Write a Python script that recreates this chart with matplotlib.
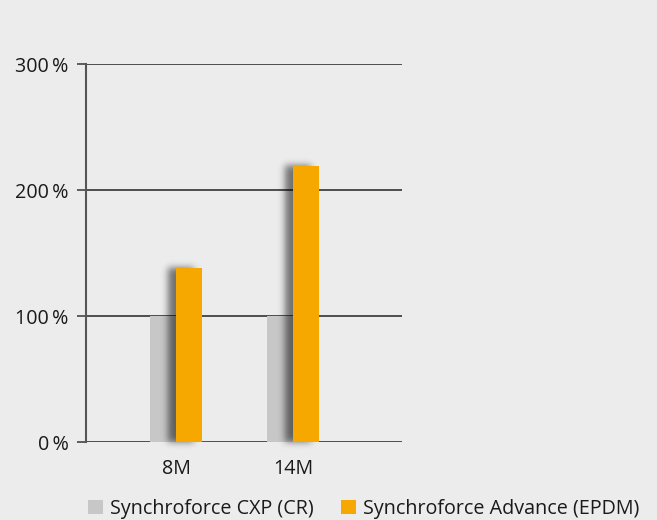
import matplotlib
matplotlib.use("Agg")
import matplotlib.pyplot as plt
import numpy as np
from math import erf

categories = ["8M", "14M"]
series_names = ["Synchroforce CXP (CR)", "Synchroforce Advance (EPDM)"]
cxp_values = [100, 100]
advance_values = [138, 219]
y_ticks = [0, 100, 200, 300]
y_tick_labels = ["0\u2009%", "100\u2009%", "200\u2009%", "300\u2009%"]

BG = "#ececec"
GREY = "#c6c7c6"
ORANGE = "#f6a800"
TEXT = "#1a1a1a"
FS = 14.2

plt.rcParams['font.family'] = ['Open Sans', 'DejaVu Sans']

DPI = 100
fig = plt.figure(figsize=(6.57, 5.2), dpi=DPI, facecolor=BG)
ax = fig.add_axes([86/657, 78/520, 316/657, 378/520], facecolor=BG)

x = np.arange(len(categories))
w = 0.222

b1 = ax.bar(x - w/2, cxp_values, width=w, color=GREY, zorder=3, label=series_names[0])
b2 = ax.bar(x + w/2, advance_values, width=w, color=ORANGE, zorder=4, label=series_names[1])

XLIM = (-0.769, 1.932)
YLIM = (0, 300)
ax.set_xlim(*XLIM)
ax.set_ylim(*YLIM)

# soft drop shadow behind the orange bars (computed from the bar geometry)
fig.canvas.draw()
phi = np.frompyfunc(lambda v: 0.5 * (1 + erf(v / np.sqrt(2))), 1, 1)
bb = ax.get_window_extent()
m = 20
X0, X1 = bb.x0 - m, bb.x1 + m
Y0, Y1 = bb.y0 - m, bb.y1 + m
nx, ny = int(X1 - X0), int(Y1 - Y0)
px = X0 + np.arange(nx) + 0.5
py = Y0 + np.arange(ny) + 0.5
sigma = 3.5
dx, dy = -8.0, 0.0
peak = 0.52
alpha = np.zeros((ny, nx))
for r in b2:
    (l, b), (rt, t) = ax.transData.transform([(r.get_x(), r.get_y()),
                                             (r.get_x() + r.get_width(), r.get_y() + r.get_height())])
    l, rt, b, t = l + dx, rt + dx, b + dy, t + dy
    cx = (phi((px - l) / sigma) - phi((px - rt) / sigma)).astype(float)
    cy = (phi((py - b) / sigma) - phi((py - t) / sigma)).astype(float)
    alpha = np.maximum(alpha, np.outer(cy, cx) * peak)
img = np.zeros((ny, nx, 4))
img[..., 3] = alpha
inv = ax.transData.inverted()
(ex0, ey0), (ex1, ey1) = inv.transform([(X0, Y0), (X1, Y1)])
ax.imshow(img, extent=(ex0, ex1, ey0, ey1), origin='lower', aspect='auto',
          zorder=3.5, clip_on=False, interpolation='bilinear')
ax.set_xlim(*XLIM)
ax.set_ylim(*YLIM)

ax.set_yticks(y_ticks)
ax.set_yticklabels(y_tick_labels)
ax.set_xticks(x)
ax.set_xticklabels(categories)

ax.yaxis.grid(True, color="#333333", linewidth=1.2, zorder=1)
ax.set_axisbelow(True)
for s in ["top", "right", "bottom"]:
    ax.spines[s].set_visible(False)
ax.spines["left"].set_color("#555555")
ax.spines["left"].set_linewidth(1.5)

ax.tick_params(axis='y', length=6.5, width=1.2, color="#444444", pad=6,
               labelsize=FS, labelcolor=TEXT)
ax.tick_params(axis='x', length=0, pad=12, labelsize=FS, labelcolor=TEXT)

leg = fig.legend(handles=[b1, b2], labels=series_names, loc='lower left',
                 bbox_to_anchor=(80/657, -7/520), ncol=2, frameon=False,
                 fontsize=FS, handlelength=0.75, handleheight=0.75,
                 handletextpad=0.37, columnspacing=1.4, borderaxespad=0)
for t in leg.get_texts():
    t.set_color(TEXT)

fig.savefig("out.png", dpi=DPI, facecolor=BG)
